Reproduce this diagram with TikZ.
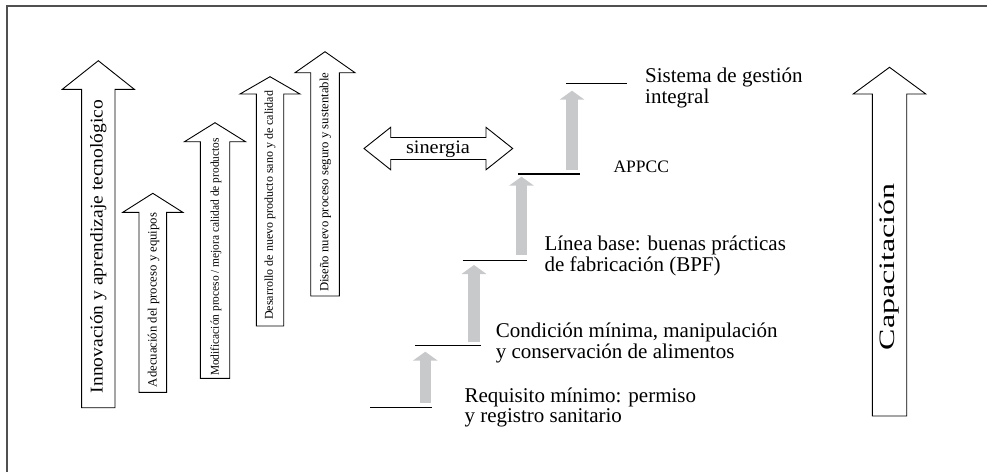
\documentclass[tikz,border=0pt]{standalone}
\usepackage{fontspec}
\setmainfont{Liberation Serif}
\usetikzlibrary{arrows.meta}
\definecolor{framegray}{RGB}{80,80,80}
\definecolor{stepgray}{RGB}{200,201,203}
\newcommand\bigarrowshape[6]{%
  \draw[arrowline] (#1-#5,#6) -- (#1-#5,#3) -- (#1-#4,#3) -- (#1,#2) -- (#1+#4,#3) -- (#1+#5,#3) -- (#1+#5,#6) -- cycle;}
\begin{document}
\begin{tikzpicture}[x=1pt,y=-1pt,
  arrowline/.style={draw=black,line width=0.9pt,fill=white,line join=miter},
  stepline/.style={draw=black,line width=1.5pt},
  grayarr/.style={draw=stepgray,line width=11.3pt,-{Triangle[length=9pt,width=24.5pt]}},
  vtext/.style={rotate=90,inner sep=0pt},
  htext/.style={anchor=base west,align=left,inner sep=0pt,font=\fontsize{21}{20.3}\selectfont}]
\useasboundingbox (0,0) rectangle (987,472);
% frame (only left and top edges visible)
\draw[framegray,line width=1.6pt] (6.7,472) -- (6.7,5.7) -- (987,5.7);

% large outlined arrows: cx, tip y, head base y, head half width, shaft half width, bottom y
\bigarrowshape{98.3}{60.7}{89.3}{36}{16.7}{407.7}
\bigarrowshape{152.8}{193.3}{212.3}{30}{13.8}{392.3}
\bigarrowshape{215}{122.7}{141.7}{30.5}{14.7}{378.3}
\bigarrowshape{270}{76.7}{94}{30}{13.7}{326}
\bigarrowshape{325}{51.7}{72.7}{30}{14.3}{296}
\bigarrowshape{889.5}{67.3}{94}{36.3}{17.2}{416}

% vertical texts
\node[vtext,font=\fontsize{18}{20}\selectfont] (innov) at (98.3,246.5) {\scalebox{1.085}[1]{Innovación y aprendizaje tecnológico}};
\node[vtext,font=\fontsize{12.7}{14}\selectfont] (adec) at (153.5,300) {Adecuación del proceso y equipos};
\node[vtext,font=\fontsize{12}{14}\selectfont] (modif) at (216,257) {\scalebox{0.952}[1]{Modificación proceso / mejora calidad de productos}};
\node[vtext,font=\fontsize{12}{14}\selectfont] (desar) at (270,205.3) {Desarrollo de nuevo producto sano y de calidad};
\node[vtext,font=\fontsize{12.5}{14}\selectfont] (disen) at (325.5,182.3) {\scalebox{1.016}[1]{Diseño nuevo proceso seguro y sustentable}};
\node[vtext,font=\fontsize{22}{24}\selectfont] (capac) at (889.5,266.7) {\scalebox{1.454}[1]{Capacitación}};

% sinergia double arrow
\draw[arrowline] (364,148.5) -- (390.7,127.3) -- (390.7,137.5) -- (486,137.5) -- (486,127.3) -- (512.7,148.5) -- (486,169.8) -- (486,159.5) -- (390.7,159.5) -- (390.7,169.8) -- cycle;
\node[anchor=base,inner sep=0pt,font=\fontsize{19}{20}\selectfont] (siner) at (438,153.3) {\scalebox{1.07}[1]{sinergia}};

% steps
\draw[stepline] (370,407.3) -- (431.7,407.3);
\draw[stepline] (415,345.7) -- (480.7,345.7);
\draw[stepline] (462.7,260.5) -- (526.7,260.5);
\draw[stepline] (518.3,174) -- (580,174);
\draw[stepline] (566,83.3) -- (627.3,83.3);

% gray step arrows
\coordinate (g1s) at (425.3,402.7); \coordinate (g1e) at (425.3,351.7);
\coordinate (g2s) at (474,341.7);   \coordinate (g2e) at (474,265);
\coordinate (g3s) at (521.5,255);   \coordinate (g3e) at (521.5,176.7);
\coordinate (g4s) at (572,170);     \coordinate (g4e) at (572,90.7);
\draw[grayarr] (g1s) -- (g1e);
\draw[grayarr] (g2s) -- (g2e);
\draw[grayarr] (g3s) -- (g3e);
\draw[grayarr] (g4s) -- (g4e);

% step labels (base anchor = baseline of last line)
\node[htext] (req) at (464.3,422.5) {Requisito mínimo: permiso\\y registro sanitario};
\node[htext] (cond) at (495.7,358.2) {Condición mínima, manipulación\\y conservación de alimentos};
\node[htext] (linea) at (544.3,271.2) {Línea base: buenas prácticas\\de fabricación (BPF)};
\node[anchor=base west,inner sep=0pt,font=\fontsize{17.5}{20}\selectfont] (appcc) at (613.3,172.7) {APPCC};
\node[htext] (sist) at (645,103.2) {Sistema de gestión\\integral};
\end{tikzpicture}
\end{document}
